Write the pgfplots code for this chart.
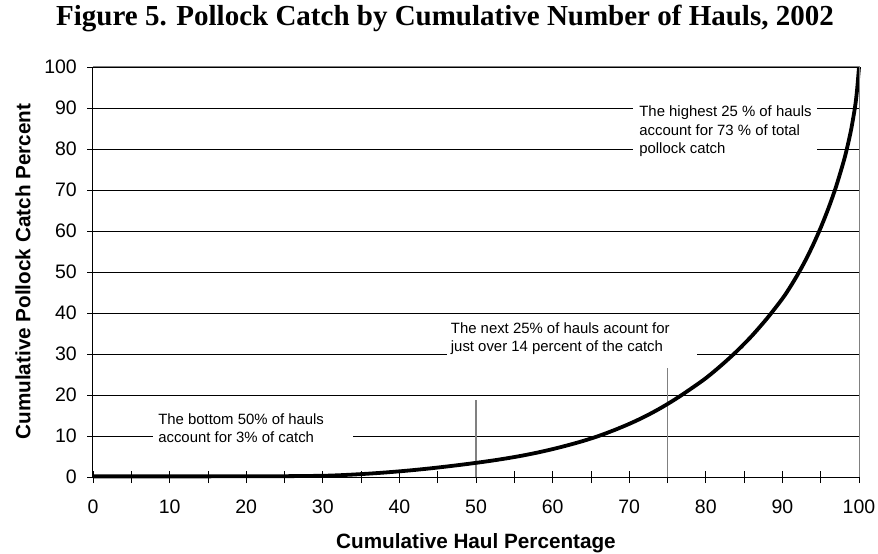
\documentclass[border=0pt]{standalone}
\usepackage{fontspec}
\setmainfont{Liberation Sans}
\newfontfamily\titlefont{Liberation Serif}
\usepackage{pgfplots}
\pgfplotsset{compat=1.18}
\begin{document}
\begin{tikzpicture}
\begin{axis}[
  scale only axis, width=766bp, height=410bp,
  xmin=0, xmax=100, ymin=0, ymax=100,
  axis line style={draw=none},
  clip=false,
  xtick={0,10,...,100}, ytick={0,10,...,100},
  minor x tick num=1,
  xtick pos=bottom, ytick pos=left,
  tick align=center,
  major tick length=12bp, minor tick length=12bp,
  tick style={black, line width=0.8bp},
  ymajorgrids, grid style={black, line width=0.8bp},
  /pgf/number format/assume math mode=true,
  ticklabel style={font=\fontsize{19.5bp}{23bp}\selectfont},
  xticklabel style={anchor=base, inner sep=0pt, yshift=-30.5bp},
  yticklabel style={anchor=east, inner sep=0pt, xshift=-10bp},
  xlabel={Cumulative Haul Percentage},
  ylabel={Cumulative Pollock Catch Percent},
  xlabel style={font=\bfseries\fontsize{20.7bp}{24bp}\selectfont, at={(axis description cs:0.5,-0.1732)}, anchor=base, inner sep=0pt},
  ylabel style={font=\bfseries\fontsize{20.7bp}{24bp}\selectfont, at={(axis description cs:-0.0914,0.501)}, anchor=center, inner sep=0pt},
  title={Figure 5. Pollock Catch by Cumulative Number of Hauls, 2002},
  title style={font=\titlefont\bfseries\fontsize{29bp}{34bp}\selectfont, at={(axis description cs:0.4595,1.0878)}, anchor=base, inner sep=0pt},
]
\addplot[gray, line width=1.3bp] coordinates {(50,0) (50,18.8)};
\addplot[gray, line width=1.3bp] coordinates {(75,0) (75,26.6)};
\addplot[black, line width=3.8bp, smooth, tension=0.5] coordinates {
(0,0.15) (10,0.15) (20,0.17) (25,0.2) (30,0.3) (32,0.42) (34,0.6) (36,0.82)
(38,1.08) (40,1.38) (42,1.72) (44,2.1) (46,2.52) (48,2.97) (50,3.45)
(52,3.97) (54,4.55) (56,5.2) (58,5.95) (60,6.8) (62,7.75) (64,8.8) (66,10.0)
(68,11.4) (70,12.95) (72,14.7) (74,16.7) (76,18.95) (78,21.45) (80,24.1)
(82,27.2) (84,30.6) (86,34.4) (88,38.7) (90,43.5) (91,46.3) (92,49.4)
(93,52.8) (94,56.6) (95,60.8) (96,65.5) (97,70.8) (98,77.0) (98.5,80.7)
(99,85.0) (99.5,90.5) (99.75,94.5) (100,100)};
\fill[white] (axis cs:7.8,6.6) rectangle (axis cs:33.9,17.6);
\fill[white] (axis cs:46.2,27.5) rectangle (axis cs:78.9,38.5);
\fill[white] (axis cs:70.5,77.3) rectangle (axis cs:94.5,93.2);
\begin{scope}[every node/.style={anchor=base west, inner sep=0pt, font=\fontsize{14.9bp}{18bp}\selectfont}]
\node at (axis cs:8.5,12.7) {The bottom 50\% of hauls};
\node at (axis cs:8.5,8.45) {account for 3\% of catch};
\node at (axis cs:46.7,35.05) {The next 25\% of hauls acount for};
\node at (axis cs:46.7,30.56) {just over 14 percent of the catch};
\node at (axis cs:71.3,87.9) {The highest 25 \% of hauls};
\node at (axis cs:71.3,83.4) {account for 73 \% of total};
\node at (axis cs:71.3,78.8) {pollock catch};
\end{scope}
\draw[gray, line width=1bp] (rel axis cs:0,1) -- (rel axis cs:1,1) -- (rel axis cs:1,0);
\draw[black, line width=1bp] (rel axis cs:0,1) -- (rel axis cs:0,0) -- (rel axis cs:1,0);
\end{axis}
\pgfresetboundingbox
\path[use as bounding box] ([shift={(-93bp,-77bp)}]current axis.south west) rectangle ([shift={(19bp,67bp)}]current axis.north east);
\end{tikzpicture}
\end{document}
